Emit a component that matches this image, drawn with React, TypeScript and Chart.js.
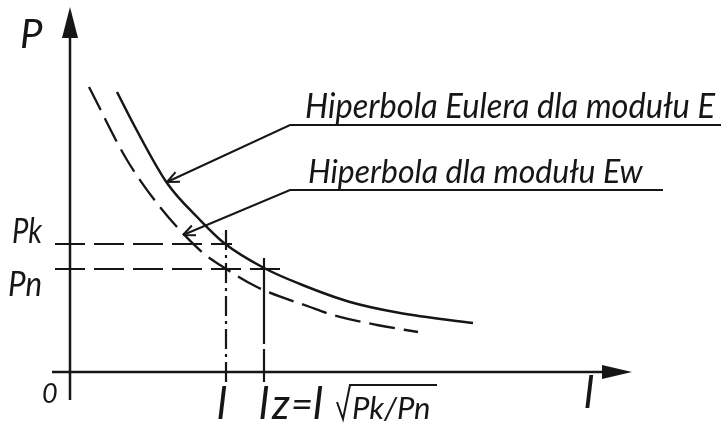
import React, { useEffect, useRef } from "react";
import { Chart, registerables } from "chart.js";

Chart.register(...registerables);

const INK = "#161616";
const FONT = "Lato, 'Liberation Sans', 'DejaVu Sans', sans-serif";
const WEIGHT = 400;

// Euler hyperbola for modulus E: buckling length l against critical force P
const eulerE_l = [4.7, 6.5, 9.7, 13.0, 15.4, 19.4, 23.0, 28.0, 33.0, 40.3];
const eulerE_P = [28.0, 24.5, 18.9, 15.2, 12.9, 10.4, 8.8, 7.0, 5.9, 4.9];

// Hyperbola for the reduced modulus Ew
const eulerEw_l = [1.9, 5.7, 9.0, 13.3, 15.0, 18.7, 24.0, 26.3, 30.7, 34.8];
const eulerEw_P = [28.5, 21.2, 16.5, 11.9, 10.7, 8.5, 6.5, 5.7, 4.7, 4.0];

// Characteristic forces and lengths
const forceLabels = ["Pk", "Pn"];
const forceValues = [12.8, 10.3];
const lengthLabels = ["l", "lz"];
const lengthValues = [15.6, 19.4];

// Axis extents (data units)
const xRange = [-1.8, 56.2];
const yRange = [-2.8, 36.5];

// Leader lines: arrow tip on the curve, elbow, end of the underline
const leaderE = [
  [9.7, 19.0],
  [22.0, 24.7],
  [65.1, 24.7],
];
const leaderEw = [
  [11.3, 13.7],
  [22.0, 18.2],
  [59.3, 18.2],
];
const labelE = "Hiperbola Eulera dla modułu E";
const labelEw = "Hiperbola dla modułu Ew";

const pts = (xs: number[], ys: number[]) => xs.map((x, i) => ({ x, y: ys[i] }));
const pairPts = (arr: number[][]) => arr.map(([x, y]) => ({ x, y }));

const line = (data: { x: number; y: number }[], dash: number[], width: number, curve = false) => ({
  data,
  showLine: true,
  borderColor: INK,
  borderWidth: width,
  borderDash: dash,
  pointRadius: 0,
  pointHoverRadius: 0,
  fill: false,
  clip: false,
  cubicInterpolationMode: curve ? "monotone" : "default",
  tension: 0,
});

function drawText(ctx: CanvasRenderingContext2D, s: string, x: number, y: number, size: number, maxW?: number) {
  ctx.font = `italic ${WEIGHT} ${size}px ${FONT}`;
  ctx.fillStyle = INK;
  ctx.textBaseline = "alphabetic";
  ctx.textAlign = "left";
  if (maxW) ctx.fillText(s, x, y, maxW);
  else ctx.fillText(s, x, y);
}

const annotations = {
  id: "drawingAnnotations",
  afterDatasetsDraw(chart: any) {
    const { ctx, scales } = chart;
    const xs = scales.x;
    const ys = scales.y;
    const px = (v: number) => xs.getPixelForValue(v);
    const py = (v: number) => ys.getPixelForValue(v);
    ctx.save();

    // filled arrowheads on the axes
    ctx.fillStyle = INK;
    const ox = px(0);
    const oy = py(0);
    const yTip = py(yRange[1]);
    ctx.beginPath();
    ctx.moveTo(ox, yTip);
    ctx.lineTo(ox - 8, yTip + 31);
    ctx.lineTo(ox + 8, yTip + 31);
    ctx.closePath();
    ctx.fill();
    const xTip = px(xRange[1]);
    ctx.beginPath();
    ctx.moveTo(xTip, oy);
    ctx.lineTo(xTip - 30, oy - 7);
    ctx.lineTo(xTip - 30, oy + 7);
    ctx.closePath();
    ctx.fill();

    // open arrowheads at the leader tips
    ctx.strokeStyle = INK;
    ctx.lineWidth = 2;
    for (const ld of [leaderE, leaderEw]) {
      const tx = px(ld[0][0]);
      const ty = py(ld[0][1]);
      const ex = px(ld[1][0]);
      const ey = py(ld[1][1]);
      const a = Math.atan2(ey - ty, ex - tx);
      ctx.beginPath();
      for (const s of [-0.42, 0.42]) {
        ctx.moveTo(tx, ty);
        ctx.lineTo(tx + 13 * Math.cos(a + s), ty + 13 * Math.sin(a + s));
      }
      ctx.stroke();
    }

    // labels on the leader underlines
    drawText(ctx, labelE, px(leaderE[1][0]) + 15, py(leaderE[1][1]) - 7, 34, 410);
    drawText(ctx, labelEw, px(leaderEw[1][0]) + 18, py(leaderEw[1][1]) - 7, 32, 339);

    // axis names and origin
    drawText(ctx, "P", ox - 50, yTip + 41, 40);
    drawText(ctx, "l", px(xRange[1]) - 48, oy + 36, 44);
    drawText(ctx, "0", ox - 28, oy + 31, 27);

    // force labels
    drawText(ctx, forceLabels[0], ox - 58, py(forceValues[0]) - 1, 35, 30);
    drawText(ctx, forceLabels[1], ox - 62, py(forceValues[1]) + 27, 35, 34);

    // length labels and formula lz = l·sqrt(Pk/Pn)
    const base = oy + 47;
    drawText(ctx, lengthLabels[0], px(lengthValues[0]) - 9, base, 44);
    const lx = px(lengthValues[1]);
    drawText(ctx, "l", lx - 5, base, 44);
    drawText(ctx, "z", lx + 8, base, 42);
    drawText(ctx, "=", lx + 27, base - 1, 38);
    drawText(ctx, "l", lx + 49, base, 44);
    ctx.lineWidth = 2;
    ctx.beginPath();
    ctx.moveTo(lx + 73, base - 17);
    ctx.lineTo(lx + 79, base);
    ctx.lineTo(lx + 86, base - 34);
    ctx.lineTo(lx + 173, base - 34);
    ctx.stroke();
    drawText(ctx, `${forceLabels[0]}/${forceLabels[1]}`, lx + 88, base, 31, 82);

    ctx.restore();
  },
};

export default function App() {
  const ref = useRef<HTMLCanvasElement | null>(null);

  useEffect(() => {
    if (!ref.current) return;
    const [pk, pn] = forceValues;
    const [l, lz] = lengthValues;
    const chart = new Chart(ref.current, {
      type: "scatter",
      data: {
        datasets: [
          // axes
          line(pairPts([[xRange[0], 0], [xRange[1] - 3, 0]]), [], 2.5),
          line(pairPts([[0, yRange[0]], [0, yRange[1] - 3.1]]), [], 2.5),
          // hyperbolas
          line(pts(eulerE_l, eulerE_P), [], 2.5, true),
          line(pts(eulerEw_l, eulerEw_P), [26, 9], 2.3, true),
          // construction lines
          line(pairPts([[-1.5, pk], [l + 0.6, pk]]), [30, 9], 2.2),
          line(pairPts([[-1.5, pn], [lz + 1.9, pn]]), [30, 9], 2.2),
          line(pairPts([[l, pk + 1.4], [l, -1.0]]), [20, 5, 3, 5], 2.2),
          line(pairPts([[lz, pn + 1.1], [lz, -1.0]]), [86, 5], 2.2),
          // leaders
          line(pairPts(leaderE), [], 2),
          line(pairPts(leaderEw), [], 2),
        ] as any,
      },
      options: {
        animation: false,
        responsive: false,
        devicePixelRatio: 1,
        events: [],
        layout: { padding: { left: 52, right: 89, top: 7, bottom: 26 } },
        plugins: { legend: { display: false }, tooltip: { enabled: false } },
        scales: {
          x: { type: "linear", min: xRange[0], max: xRange[1], display: false },
          y: { type: "linear", min: yRange[0], max: yRange[1], display: false },
        },
      },
      plugins: [annotations],
    });
    return () => chart.destroy();
  }, []);

  return (
    <div style={{ position: "absolute", left: 0, top: 0, width: 721, height: 426, background: "#fff" }}>
      <canvas ref={ref} width={721} height={426} />
    </div>
  );
}
